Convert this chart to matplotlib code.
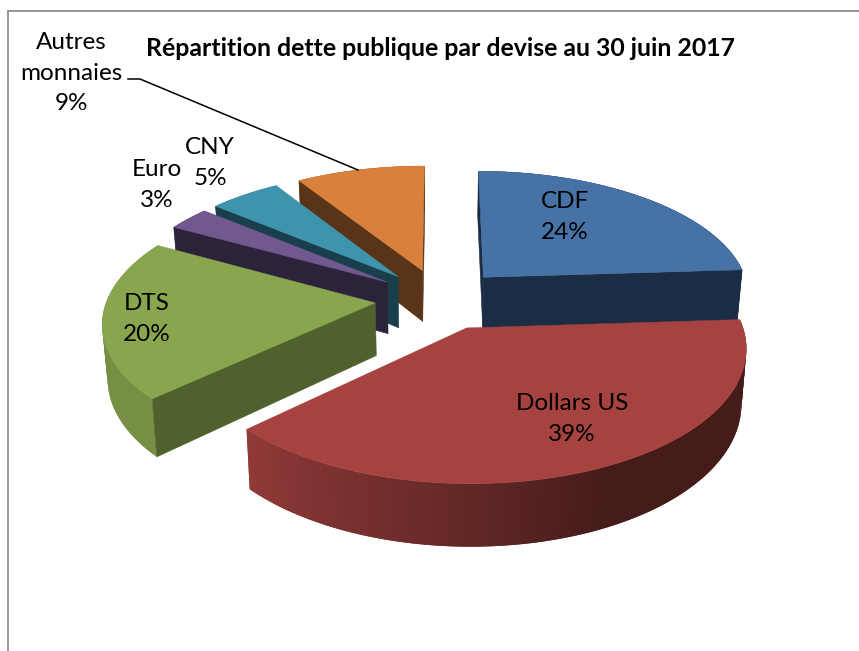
import numpy as np
import matplotlib
matplotlib.use("Agg")
import matplotlib.pyplot as plt
from matplotlib.collections import PolyCollection
from matplotlib.colors import to_rgb

plt.rcParams['font.family'] = ['Lato', 'DejaVu Sans']

title = "Répartition dette publique par devise au 30 juin 2017"
labels = ["CDF", "Dollars US", "DTS", "Euro", "CNY", "Autres\nmonnaies"]
shares = [24, 39, 20, 3, 5, 9]
top_colors = ["#4672A6", "#A64340", "#89A54E", "#71588F", "#3F94AD", "#D8803C"]
side_colors = ["#1B2D45", "#6A2826", "#4F612D", "#2C2239", "#1A3F4C", "#5A3418"]
label_pos = [(565, 217), (572, 419), (147, 319), (157, 185), (210, 163), (71, 73)]

# drawing order, back slices first
order = [5, 0, 4, 3, 2, 1]

# pie geometry, in pixels of the picture
cx, cy = 440, 299
R = 268
tilt = 0.47
persp = 0.136
depth = 52.5
explode = 65
taper = 0.984


def project(x, y, z=0.0):
    s = 1 / (1 + persp * y / R)
    t = 1 - (1 - taper) * z
    return np.column_stack((cx + x * s * t, cy - tilt * y * s + depth * z * s))


def shade(a):
    # light falling on the rim, a in degrees
    return np.interp(a, [-210, -137, -100, -65, 0], [0.85, 0.87, 0.65, 0.42, 0.42])


def area(p):
    return 0.5 * np.sum(p[:, 0] * np.roll(p[:, 1], -1) - np.roll(p[:, 0], -1) * p[:, 1])


fig = plt.figure(figsize=(8.59, 6.51), dpi=100)
ax = fig.add_axes([0, 0, 1, 1])
ax.set_xlim(0, 859)
ax.set_ylim(651, 0)
ax.axis('off')

# chart frame
ax.plot([8, 8, 859], [651, 11, 11], color="#979797", lw=1.4, solid_joinstyle='miter')

cum = np.cumsum([0] + shares)
for i in order:
    a0 = 90 - cum[i] * 3.6
    a1 = 90 - cum[i + 1] * 3.6
    mid = np.radians((a0 + a1) / 2)
    tx = explode * np.cos(mid)
    ty = explode * np.sin(mid)
    ang = np.linspace(a0, a1, max(int(a0 - a1), 2) + 1)
    ex = tx + R * np.cos(np.radians(ang))
    ey = ty + R * np.sin(np.radians(ang))

    # rim, quads overlap the next one so no seams show
    up = project(ex, ey)
    down = project(ex, ey, 1.0)
    n = len(ang) - 1
    quads = [[up[j], up[min(j + 2, n)], down[min(j + 2, n)], down[j]] for j in range(n)]
    base = np.array(to_rgb(top_colors[i]))
    cols = [tuple(base * shade((ang[j] + ang[j + 1]) / 2)) for j in range(n)]
    ax.add_collection(PolyCollection(quads, facecolors=cols, edgecolors='none'))

    # cut faces, only those turned to the viewer
    for k, sign in ((0, -1), (-1, 1)):
        face = np.vstack((project(np.array([tx, ex[k]]), np.array([ty, ey[k]])),
                          project(np.array([ex[k], tx]), np.array([ey[k], ty]), 1.0)))
        if area(face) * sign > 0:
            ax.fill(face[:, 0], face[:, 1], color=side_colors[i], lw=0.4)

    # top
    top = np.vstack((project(np.array([tx]), np.array([ty])), up))
    ax.fill(top[:, 0], top[:, 1], color=top_colors[i], lw=0.3)

for name, val, (x, y) in zip(labels, shares, label_pos):
    ax.text(x, y, f"{name}\n{val}%", ha='center', va='center', fontsize=17.5,
            color="black", linespacing=1.55)

ax.plot([128, 140, 358], [79, 79, 170], color="black", lw=1.1)
ax.text(440, 48, title, ha='center', va='center', fontsize=17.9, fontweight='bold', color="black")

fig.savefig("out.png", dpi=100, facecolor="white")
